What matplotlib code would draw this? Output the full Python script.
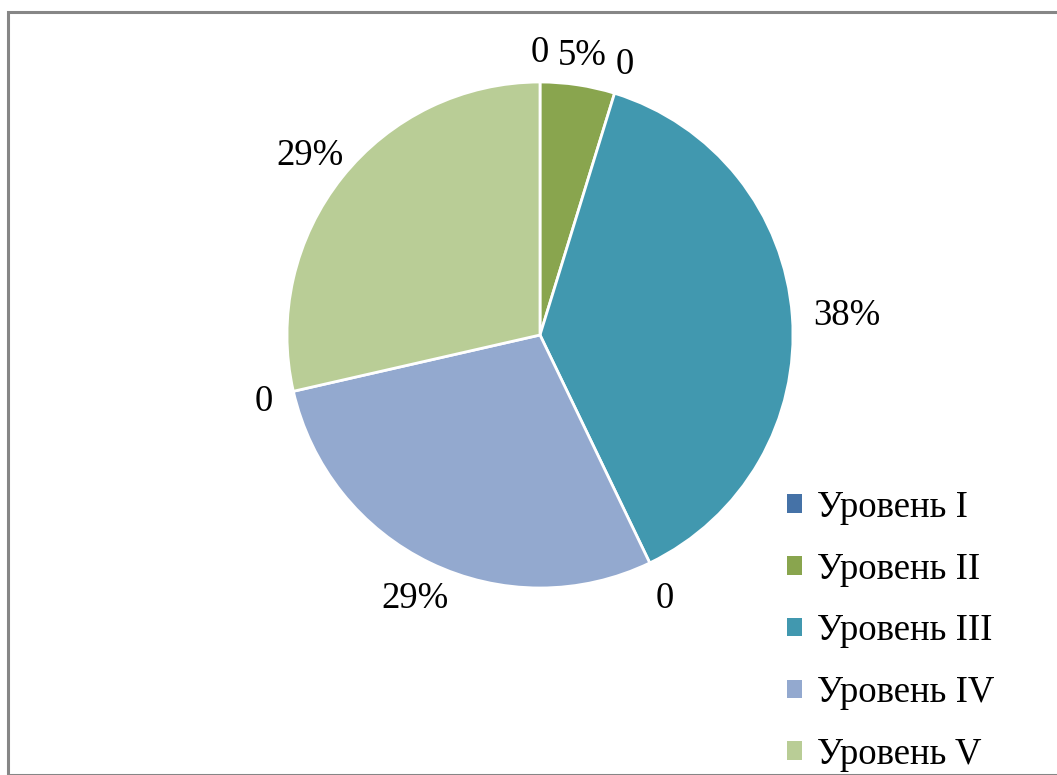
import numpy as np
import matplotlib.pyplot as plt
from matplotlib.patches import Rectangle

# данные
levels = ['Уровень I', 'Уровень II', 'Уровень III', 'Уровень IV', 'Уровень V']
counts = [0, 1, 8, 6, 6]
colors = ['#4572A7', '#89A54E', '#4198AF', '#93A9CF', '#B9CD96']

plt.rcParams['font.family'] = ['Liberation Serif', 'DejaVu Serif']
FS = 26.5

W, H = 1057, 775
fig = plt.figure(figsize=(W / 100, H / 100), dpi=100)

# рамка области диаграммы
fig.patches.append(Rectangle((8 / W, 0), 1.0, 1 - 12 / H, transform=fig.transFigure,
                             fill=False, edgecolor='#868686', linewidth=2.2))

cx, cy, R = 540, 335, 253
ax = fig.add_axes([(cx - R) / W, (H - cy - R) / H, 2 * R / W, 2 * R / H])

wedges, _ = ax.pie(counts, colors=colors, startangle=90, counterclock=False,
                   wedgeprops=dict(edgecolor='white', linewidth=2))
ax.set_xlim(-1, 1)
ax.set_ylim(-1, 1)
ax.axis('off')

total = sum(counts)
frac = np.array(counts) / total
edges = np.concatenate([[0], np.cumsum(frac)])

renderer = fig.canvas.get_renderer()
gap = 21  # px между кругом и краем подписи
digit_h = 0.68 * FS * 100 / 72


def place(label, f):
    # подпись снаружи: ближний край прямоугольника текста на расстоянии gap от круга
    t = ax.text(0, 0, label, ha='center', va='center_baseline', fontsize=FS)
    w = t.get_window_extent(renderer).width
    a = np.deg2rad(90 - 360 * f)
    ux, uy = abs(np.cos(a)) + 1e-9, abs(np.sin(a)) + 1e-9
    half = min(w / 2 / ux, digit_h / 2 / uy)
    d = (R + gap + half) / R
    t.set_position((d * np.cos(a), d * np.sin(a)))


for i, f in enumerate(frac):
    if counts[i] == 0:
        continue
    place(f'{f * 100:.0f}%', (edges[i] + edges[i + 1]) / 2)

# нулевые подписи на границах секторов
for b in edges[1:5]:
    place('0', b)

handles = [Rectangle((0, 0), 1, 1, facecolor=c) for c in colors]
fig.legend(handles, levels, loc='center left', bbox_to_anchor=(787 / W, 1 - 631 / H),
           frameon=False, fontsize=FS, handlelength=0.4, handleheight=0.4,
           handletextpad=0.42, labelspacing=0.74, borderpad=0, borderaxespad=0)

fig.savefig('out.png', dpi=100)
